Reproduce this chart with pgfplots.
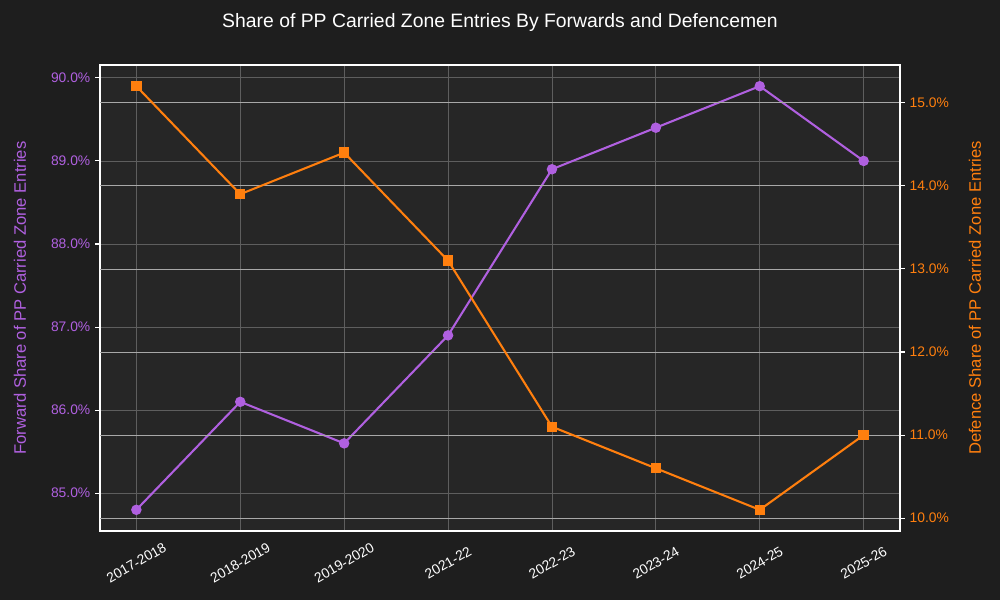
\documentclass[border=0pt]{standalone}
\usepackage{pgfplots}
\pgfplotsset{compat=1.18}
\usepackage{fontspec}
\setmainfont{Liberation Sans}
\definecolor{figbg}{HTML}{1E1E1E}
\definecolor{axbg}{HTML}{262626}
\definecolor{fwd}{RGB}{176,96,224}
\definecolor{def}{HTML}{FF7F0E}
\definecolor{gridA}{HTML}{5E5E5E}
\definecolor{gridB}{HTML}{A8A8A8}
\begin{document}
\begin{tikzpicture}[x=1in,y=1in]
\fill[figbg] (0,0) rectangle (10,6);
\useasboundingbox (0,0) rectangle (10,6);
\node[text=white, font=\fontsize{14}{16}\selectfont] at (5,5.78) {Share of PP Carried Zone Entries By Forwards and Defencemen};
\begin{axis}[
  at={(1in,0.69in)}, anchor=south west, scale only axis,
  width=8in, height=4.66in,
  xmin=-0.35, xmax=7.35, ymin=84.545, ymax=90.155,
  axis background/.style={fill=axbg},
  axis line style={white, line width=0.8pt},
  xtick={0,...,7},
  xticklabels={2017-2018,2018-2019,2019-2020,2021-22,2022-23,2023-24,2024-25,2025-26},
  xticklabel style={rotate=30, anchor=center, yshift=-0.234in, xshift=-0.135in, text=white, font=\fontsize{10}{12}\selectfont},
  xtick style={draw=none},
  ytick={85,86,87,88,89,90},
  yticklabels={85.0\%,86.0\%,87.0\%,88.0\%,89.0\%,90.0\%},
  ytick pos=left,
  yticklabel style={text=fwd, font=\fontsize{10}{12}\selectfont},
  ytick style={white, line width=0.8pt},
  tick align=outside, major tick length=3.5pt,
  grid=major, major grid style={gridA, line width=0.6pt},
  every axis y label/.style={at={(axis description cs:-0.1,0.5)}, rotate=90, anchor=center},
  ylabel={Forward Share of PP Carried Zone Entries},
  ylabel style={text=fwd, font=\fontsize{12}{14}\selectfont},
]
\addplot[fwd, line width=1.5pt, mark=*, mark size=3pt, mark options={fill=fwd, draw=fwd}]
  coordinates {(0,84.8)(1,86.1)(2,85.6)(3,86.9)(4,88.9)(5,89.4)(6,89.9)(7,89.0)};
\end{axis}
\begin{axis}[
  at={(1in,0.69in)}, anchor=south west, scale only axis,
  width=8in, height=4.66in,
  xmin=-0.35, xmax=7.35, ymin=9.845, ymax=15.455,
  axis x line=none, axis y line*=right,
  axis line style={white, line width=0.8pt},
  ytick={10,11,12,13,14,15},
  yticklabels={10.0\%,11.0\%,12.0\%,13.0\%,14.0\%,15.0\%},
  yticklabel style={text=def, font=\fontsize{10}{12}\selectfont},
  ytick style={white, line width=0.8pt},
  tick align=outside, major tick length=3.5pt,
  ymajorgrids, major grid style={gridB, line width=0.6pt},
  every axis y label/.style={at={(axis description cs:1.09375,0.5)}, rotate=90, anchor=center},
  ylabel={Defence Share of PP Carried Zone Entries},
  ylabel style={text=def, font=\fontsize{12}{14}\selectfont},
]
\addplot[def, line width=1.5pt, mark=square*, mark size=3pt, mark options={fill=def, draw=def}]
  coordinates {(0,15.2)(1,13.9)(2,14.4)(3,13.1)(4,11.1)(5,10.6)(6,10.1)(7,11.0)};
\end{axis}
\end{tikzpicture}
\end{document}
